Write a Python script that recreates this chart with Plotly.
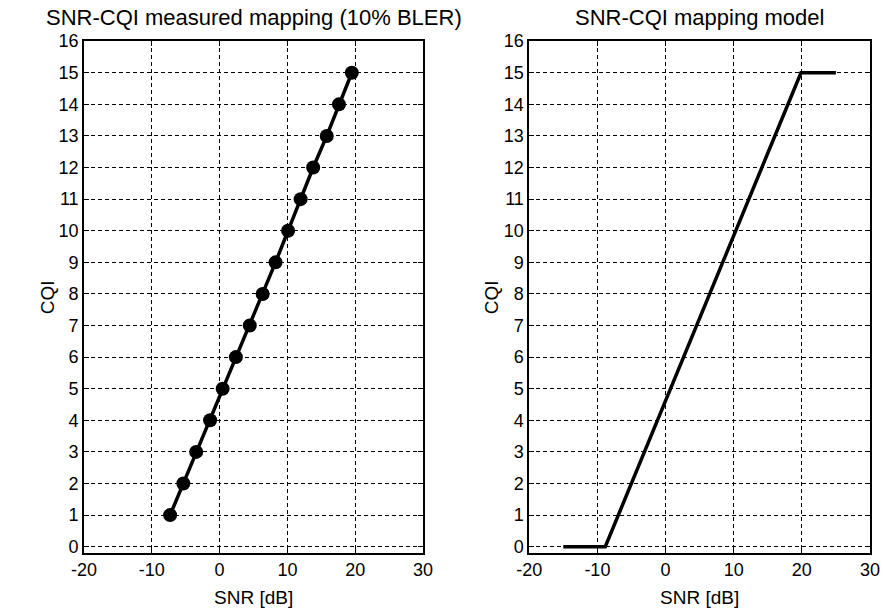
import plotly.graph_objects as go

# Measured mapping (10% BLER)
cqi_measured = [1, 2, 3, 4, 5, 6, 7, 8, 9, 10, 11, 12, 13, 14, 15]
snr_measured = [-7.3, -5.35, -3.45, -1.4, 0.45, 2.4, 4.45, 6.35, 8.25, 10.1, 11.95, 13.8, 15.8, 17.6, 19.5]

# Mapping model
snr_model = [-15, -8.84, 19.88, 25]
cqi_model = [0, 0, 15, 15]

x_ticks = [-20, -10, 0, 10, 20, 30]
x_tick_labels = ["-20", "-10", "0", "10", "20", "30"]
y_ticks = list(range(0, 17))

fig = go.Figure()
fig.add_trace(go.Scatter(x=snr_measured, y=cqi_measured, mode="lines+markers",
                         line=dict(color="black", width=3.5),
                         marker=dict(color="black", size=14, symbol="circle"),
                         xaxis="x", yaxis="y", showlegend=False))
fig.add_trace(go.Scatter(x=snr_model, y=cqi_model, mode="lines",
                         line=dict(color="black", width=3.5),
                         xaxis="x2", yaxis="y2", showlegend=False))

fam = "Liberation Sans, Arial, sans-serif"
tickfont = dict(family=fam, size=18, color="black")
labelfont = dict(family=fam, size=19, color="black")
titlefont = dict(family=fam, size=22, color="black")
axis_common = dict(showline=True, linecolor="black", linewidth=1.5, mirror="ticks",
                   ticks="inside", ticklen=5, tickcolor="black",
                   showgrid=True, gridcolor="black", gridwidth=1, griddash="4px,3px",
                   zeroline=False, tickfont=tickfont, automargin=False)

fig.update_layout(
    width=885, height=614,
    margin=dict(l=0, r=0, t=0, b=0, autoexpand=False),
    paper_bgcolor="white", plot_bgcolor="white",
    font=tickfont,
    xaxis=dict(domain=[0.0949, 0.478], range=[-20, 30], tickvals=x_ticks, ticktext=x_tick_labels,
               anchor="y", **axis_common),
    yaxis=dict(domain=[0.0993, 0.933], range=[-0.2, 16], tickvals=y_ticks, anchor="x", **axis_common),
    xaxis2=dict(domain=[0.598, 0.983], range=[-20, 30], tickvals=x_ticks, ticktext=x_tick_labels,
                anchor="y2", **axis_common),
    yaxis2=dict(domain=[0.0993, 0.933], range=[-0.2, 16], tickvals=y_ticks, anchor="x2", **axis_common),
    annotations=[
        dict(text="SNR-CQI measured mapping (10% BLER)", x=0.2865, y=0.972, xref="paper", yref="paper",
             xanchor="center", yanchor="middle", showarrow=False, font=titlefont),
        dict(text="SNR-CQI mapping model", x=0.7905, y=0.972, xref="paper", yref="paper",
             xanchor="center", yanchor="middle", showarrow=False, font=titlefont),
        dict(text="SNR [dB]", x=0.2865, y=0.027, xref="paper", yref="paper",
             xanchor="center", yanchor="middle", showarrow=False, font=labelfont),
        dict(text="SNR [dB]", x=0.7905, y=0.027, xref="paper", yref="paper",
             xanchor="center", yanchor="middle", showarrow=False, font=labelfont),
        dict(text="CQI", x=47/885, y=0.516, xref="paper", yref="paper",
             xanchor="center", yanchor="middle", showarrow=False, textangle=-90, font=labelfont),
        dict(text="CQI", x=491/885, y=0.516, xref="paper", yref="paper",
             xanchor="center", yanchor="middle", showarrow=False, textangle=-90, font=labelfont),
    ],
)

fig.write_html("out.html")
